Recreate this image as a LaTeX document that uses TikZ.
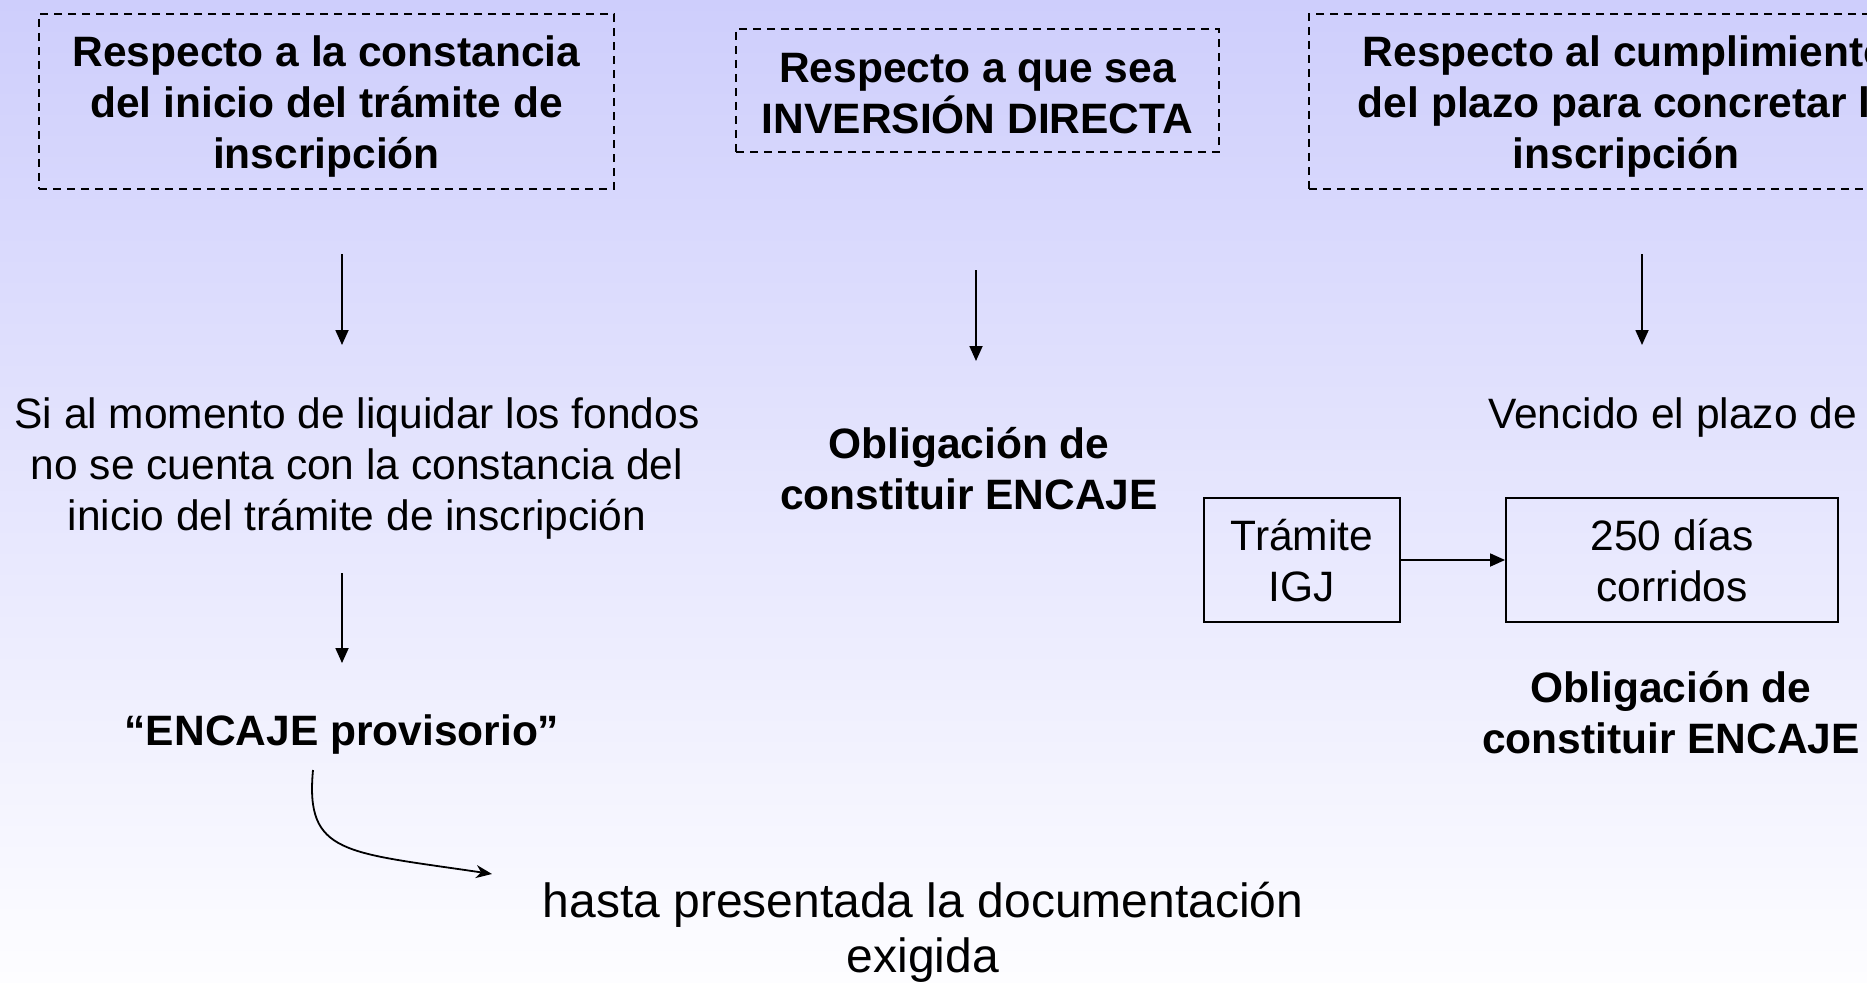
\documentclass[tikz,border=0pt]{standalone}
\usepackage{fontspec}
\setmainfont{Liberation Sans}
\usetikzlibrary{arrows.meta}
\definecolor{bgtop}{RGB}{206,206,252}
\definecolor{bgbot}{RGB}{253,253,255}
\newcommand\hrl[1]{\rule{0pt}{#1}}
\tikzset{
  reg/.style={font=\fontsize{42.5}{51}\selectfont, align=center, inner sep=0pt, text=black},
  bld/.style={font=\fontsize{42.5}{51}\selectfont\bfseries, align=center, inner sep=0pt, text=black},
  big/.style={font=\fontsize{48}{55}\selectfont, align=center, inner sep=0pt, text=black},
  dbox/.style={draw=black, line width=2.3pt, dash pattern=on 8.3pt off 5.7pt},
  sbox/.style={draw=black, line width=1.9pt},
  arr/.style={draw=black, line width=1.8pt, -{Triangle[length=15pt,width=13pt]}},
  carr/.style={draw=black, line width=1.8pt, -{Stealth[length=16pt,width=13pt,inset=5pt]}}
}
\begin{document}
\lineskiplimit=-100pt
\begin{tikzpicture}[x=1pt,y=-1pt]
\useasboundingbox (0,0) rectangle (1867,982);
\clip (0,0) rectangle (1867,982);
\shade[top color=bgtop, bottom color=bgbot] (0,0) rectangle (1867,982);

% header boxes
\node[dbox,bld,minimum width=575pt,minimum height=175pt] (q1) at (326.5,101.5)
  {\hrl{46.3pt}Respecto a la constancia\\del inicio del trámite de\\inscripción\strut};
\node[dbox,bld,minimum width=483pt,minimum height=123pt] (q2) at (977.5,90.5)
  {\hrl{49.3pt}Respecto a que sea\\INVERSIÓN DIRECTA\strut};
\node[dbox,bld,minimum width=634pt,minimum height=175pt] (q3) at (1626,101.5)
  {\hrl{46.3pt}Respecto al cumplimiento\\del plazo para concretar la\\inscripción\strut};

% second row
\node[reg] (s1) at (357,468.8)
  {\strut Si al momento de liquidar los fondos\\no se cuenta con la constancia del\\inicio del trámite de inscripción\strut};
\node[bld] (o1) at (969,473.3) {\strut Obligación de\\constituir ENCAJE\strut};
\node[reg, anchor=base west] (v) at (1488,428) {Vencido el plazo de};

% boxes right
\node[sbox,reg,minimum width=196pt,minimum height=124pt] (t) at (1302,560) {\hrl{46.3pt}Trámite\\IGJ\strut};
\node[sbox,reg,minimum width=332pt,minimum height=124pt] (d) at (1672,560) {\hrl{46.3pt}250 días\\corridos\strut};
\node[bld] (o2) at (1671,717.3) {\strut Obligación de\\constituir ENCAJE\strut};

% bottom
\node[bld, anchor=base] (e) at (342,745) {“ENCAJE provisorio”};
\node[big] (h) at (923,933.5) {\strut hasta presentada la documentación\\exigida\strut};

% arrows
\coordinate (a1s) at (342,254); \coordinate (a1e) at (342,345);
\coordinate (a2s) at (976,270); \coordinate (a2e) at (976,361);
\coordinate (a3s) at (1642,254); \coordinate (a3e) at (1642,345);
\coordinate (a4s) at (342,573); \coordinate (a4e) at (342,663);
\coordinate (c0) at (313,770); \coordinate (c1) at (492,874);
\draw[arr] (a1s) -- (a1e);
\draw[arr] (a2s) -- (a2e);
\draw[arr] (a3s) -- (a3e);
\draw[arr] (a4s) -- (a4e);
\draw[arr] (t) -- (d);
\draw[carr] (c0) .. controls (305,855) and (345,852) .. (c1);
\end{tikzpicture}
\end{document}
